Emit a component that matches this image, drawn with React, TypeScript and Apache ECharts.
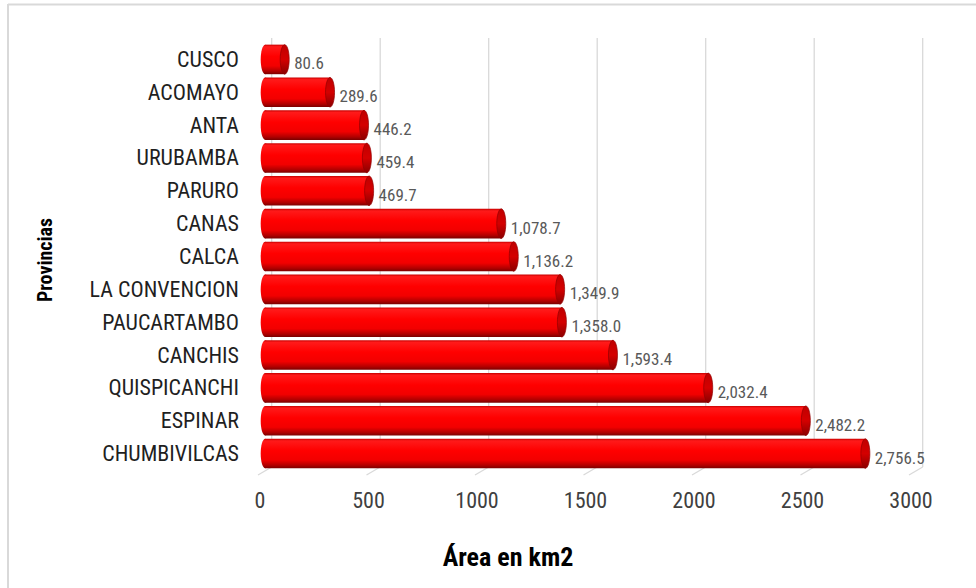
import React, { useEffect, useRef } from "react";
import * as echarts from "echarts";

const provincias = [
  "CUSCO",
  "ACOMAYO",
  "ANTA",
  "URUBAMBA",
  "PARURO",
  "CANAS",
  "CALCA",
  "LA CONVENCION",
  "PAUCARTAMBO",
  "CANCHIS",
  "QUISPICANCHI",
  "ESPINAR",
  "CHUMBIVILCAS",
];
const areas = [
  80.6, 289.6, 446.2, 459.4, 469.7, 1078.7, 1136.2, 1349.9, 1358.0, 1593.4,
  2032.4, 2482.2, 2756.5,
];
const xTicks = [0, 500, 1000, 1500, 2000, 2500, 3000];

const FONT =
  "'Liberation Sans Narrow', 'Roboto Condensed', 'DejaVu Sans Condensed', Roboto, sans-serif";

// 3D depth offset between the front face and the back wall
const DEPTH_X = 11.7;
const DEPTH_Y = 7;

const fmt = (v: number) =>
  v.toLocaleString("en-US", { minimumFractionDigits: 1, maximumFractionDigits: 1 });

function renderCylinder(params: any, api: any) {
  const v = api.value(0) as number;
  const i = api.value(1) as number;
  const p0 = api.coord([0, i]);
  const p1 = api.coord([v, i]);
  const band = (api.size([0, 1]) as number[])[1];
  const h = band * 0.9;
  const ry = h / 2;
  const rx = 4.5;
  const cy = p0[1];
  const left = p0[0] + 0.7;
  const right = p1[0] + DEPTH_X;

  const bodyFill = new echarts.graphic.LinearGradient(0, 0, 0, 1, [
    { offset: 0, color: "#c80000" },
    { offset: 0.07, color: "#ff1a1a" },
    { offset: 0.4, color: "#ff0000" },
    { offset: 0.72, color: "#f20000" },
    { offset: 0.9, color: "#b00000" },
    { offset: 1, color: "#7a0000" },
  ]);
  const capFill = new echarts.graphic.LinearGradient(0, 0, 0, 1, [
    { offset: 0, color: "#c00000" },
    { offset: 0.5, color: "#d40000" },
    { offset: 1, color: "#8a0000" },
  ]);

  return {
    type: "group",
    children: [
      {
        type: "ellipse",
        shape: { cx: left + rx, cy, rx, ry },
        style: { fill: bodyFill },
      },
      {
        type: "rect",
        shape: {
          x: left + rx,
          y: cy - ry,
          width: Math.max(0, right - left - 2 * rx),
          height: h,
        },
        style: { fill: bodyFill },
      },
      {
        type: "ellipse",
        shape: { cx: right - rx, cy, rx, ry },
        style: { fill: capFill, stroke: "#900000", lineWidth: 0.7 },
      },
      {
        type: "text",
        x: right + 5,
        y: cy + 4,
        style: {
          text: fmt(v),
          fill: "#595959",
          font: `17px ${FONT}`,
          align: "left",
          verticalAlign: "middle",
        },
      },
    ],
  };
}

function renderWall(params: any, api: any) {
  const t = api.value(0) as number;
  const cs = params.coordSys as { x: number; y: number; width: number; height: number };
  const fx = api.coord([t, 0])[0];
  const bottom = cs.y + cs.height;
  const style = { stroke: "#d9d9d9", lineWidth: 1.3 };
  return {
    type: "group",
    children: [
      {
        type: "line",
        shape: { x1: fx + DEPTH_X, y1: cs.y - 5, x2: fx + DEPTH_X, y2: bottom - 3 },
        style,
      },
      {
        type: "line",
        shape: { x1: fx - 2, y1: bottom + DEPTH_Y - 3 + 1, x2: fx + DEPTH_X, y2: bottom - 3 },
        style,
      },
    ],
  };
}

export default function App() {
  const ref = useRef<HTMLDivElement>(null);

  useEffect(() => {
    document.body.style.margin = "0";
    if (!ref.current) return;
    const chart = echarts.init(ref.current, undefined, { renderer: "svg" });
    chart.setOption({
      animation: false,
      backgroundColor: "#ffffff",
      grid: { left: 260, top: 43, width: 651, height: 427, containLabel: false },
      xAxis: {
        type: "value",
        min: 0,
        max: 3000,
        interval: 500,
        axisLine: { show: false },
        axisTick: { show: false },
        splitLine: { show: false },
        axisLabel: {
          margin: 19,
          fontSize: 22,
          color: "#404040",
          fontFamily: FONT,
          formatter: (v: number) => String(v),
        },
      },
      yAxis: {
        type: "category",
        data: provincias,
        inverse: true,
        axisLine: { show: false },
        axisTick: { show: false },
        splitLine: { show: false },
        axisLabel: {
          margin: 21,
          fontSize: 22,
          color: "#1f1f1f",
          fontFamily: FONT,
        },
      },
      series: [
        {
          type: "custom",
          name: "walls",
          renderItem: renderWall,
          data: xTicks.map((t) => [t, 0]),
          encode: { x: 0, y: 1 },
          z: 1,
          silent: true,
        },
        {
          type: "custom",
          name: "Área",
          renderItem: renderCylinder,
          data: areas.map((v, i) => [v, i]),
          encode: { x: 0, y: 1 },
          z: 5,
        },
      ],
      graphic: [
        {
          type: "line",
          shape: { x1: 8, y1: 4.5, x2: 976, y2: 4.5 },
          style: { stroke: "#d9d9d9", lineWidth: 2 },
        },
        {
          type: "line",
          shape: { x1: 8, y1: 4, x2: 8, y2: 588 },
          style: { stroke: "#d9d9d9", lineWidth: 2 },
        },
        {
          type: "text",
          x: 508,
          y: 557,
          style: {
            text: "Área en km2",
            font: `bold 26px ${FONT}`,
            fill: "#000000",
            align: "center",
            verticalAlign: "middle",
          },
        },
        {
          type: "text",
          x: 45,
          y: 260,
          rotation: Math.PI / 2,
          style: {
            text: "Provincias",
            font: `bold 20px ${FONT}`,
            fill: "#000000",
            align: "center",
            verticalAlign: "middle",
          },
        },
      ],
    });
    return () => chart.dispose();
  }, []);

  return <div ref={ref} style={{ width: 976, height: 588 }} />;
}
